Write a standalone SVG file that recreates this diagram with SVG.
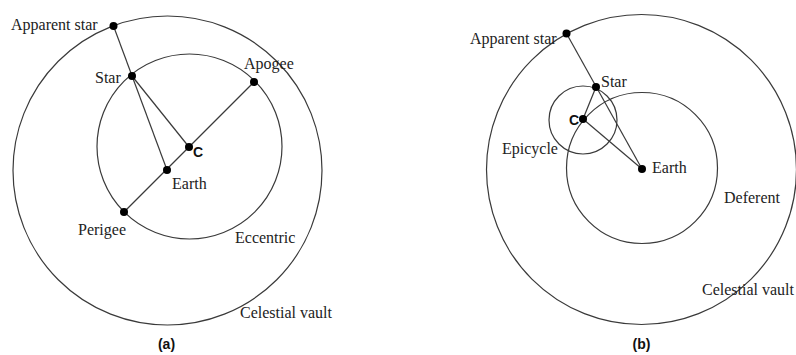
<svg xmlns="http://www.w3.org/2000/svg" width="796" height="355" viewBox="0 0 796 355">
<style>
.c{fill:none;stroke:#3a3a3a;stroke-width:1.2}
.l{stroke:#3a3a3a;stroke-width:1.2}
.d{fill:#000}
.t{font-family:"Liberation Serif","Times New Roman",serif;font-size:16px;fill:#222}
.b{font-family:"Liberation Sans",Arial,sans-serif;font-size:14px;font-weight:bold;fill:#111}
</style>
<rect width="796" height="355" fill="#fff"/>
<g id="diagram-a">
<g id="a-celestial-vault"><circle class="c" cx="167.5" cy="170.5" r="154.5"/><text class="t" x="240" y="318">Celestial vault</text></g>
<g id="a-eccentric"><circle class="c" cx="189.5" cy="146.5" r="92.5"/><text class="t" x="235" y="243">Eccentric</text></g>
<g id="a-connectors">
<line class="l" x1="113.5" y1="26" x2="167" y2="170"/>
<line class="l" x1="132" y1="76" x2="189" y2="147"/>
<line class="l" x1="124" y1="212" x2="254" y2="82"/>
</g>
<g id="a-apparent-star"><circle class="d" cx="113.5" cy="26" r="4"/><text class="t" x="11" y="30">Apparent star</text></g>
<g id="a-star"><circle class="d" cx="132" cy="76" r="4"/><text class="t" x="95" y="83">Star</text></g>
<g id="a-apogee"><circle class="d" cx="254" cy="82" r="4"/><text class="t" x="244" y="69">Apogee</text></g>
<g id="a-c"><circle class="d" cx="189" cy="147" r="4"/><text class="b" x="193" y="157">C</text></g>
<g id="a-earth"><circle class="d" cx="167" cy="170" r="4"/><text class="t" x="172" y="189">Earth</text></g>
<g id="a-perigee"><circle class="d" cx="124" cy="212" r="4"/><text class="t" x="78" y="235">Perigee</text></g>
<text class="b" x="166.5" y="349" text-anchor="middle" font-size="13">(a)</text>
</g>
<g id="diagram-b">
<g id="b-celestial-vault"><circle class="c" cx="641.5" cy="169.5" r="155"/><text class="t" x="702" y="295">Celestial vault</text></g>
<g id="b-deferent"><circle class="c" cx="642" cy="168" r="75.5"/><text class="t" x="724" y="203">Deferent</text></g>
<g id="b-epicycle"><circle class="c" cx="583" cy="120" r="34"/><text class="t" x="502" y="154">Epicycle</text></g>
<g id="b-connectors">
<line class="l" x1="566.5" y1="33.5" x2="642" y2="169"/>
<line class="l" x1="596" y1="87" x2="583" y2="119"/>
<line class="l" x1="583" y1="119" x2="642" y2="169"/>
</g>
<g id="b-apparent-star"><circle class="d" cx="566.5" cy="33.5" r="4"/><text class="t" x="470" y="44">Apparent star</text></g>
<g id="b-star"><circle class="d" cx="596" cy="87" r="4"/><text class="t" x="601" y="87">Star</text></g>
<g id="b-c"><circle class="d" cx="583" cy="119" r="4"/><text class="b" x="569" y="125">C</text></g>
<g id="b-earth"><circle class="d" cx="642" cy="169" r="4"/><text class="t" x="652" y="173">Earth</text></g>
<text class="b" x="641.5" y="349" text-anchor="middle" font-size="13">(b)</text>
</g>
</svg>
